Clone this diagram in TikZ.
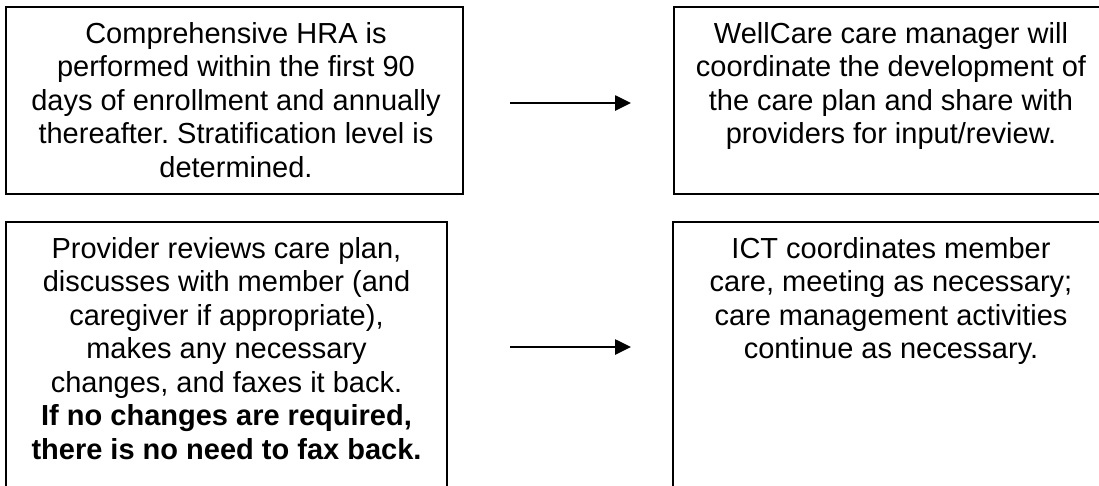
\documentclass[tikz,border=0pt]{standalone}
\usepackage{fontspec}
\setmainfont{Liberation Sans}
\usetikzlibrary{arrows.meta}
\frenchspacing
\begin{document}
\begin{tikzpicture}[x=1pt,y=1pt,
  box/.style={draw=black, line width=2.2pt, inner sep=0pt, outer sep=0pt, anchor=north west},
  txt/.style={align=center, inner sep=0pt, anchor=north, font=\fontsize{29pt}{33.5pt}\selectfont},
  arr/.style={line width=2.6pt, -{Triangle[length=16pt,width=15pt]}}]
\useasboundingbox (0,0) rectangle (1099,-485);
\fill[white] (0,0) rectangle (1099,-485);
\clip (0,0) rectangle (1099,-485);
% boxes
\node[box, minimum width=457pt, minimum height=187pt] (tl) at (6,-7) {};
\node[box, minimum width=436pt, minimum height=187pt] (tr) at (674,-7) {};
\node[box, minimum width=441pt, minimum height=300pt] (bl) at (6,-222) {};
\node[box, minimum width=436pt, minimum height=300pt] (br) at (673,-222) {};
% texts
\node[txt] (tlt) at (236,-22) {Comprehensive HRA is\\performed within the first 90\\days of enrollment and annually\\thereafter. Stratification level is\\determined.};
\node[txt] (trt) at (891,-22) {WellCare care manager will\\coordinate the development of\\the care plan and share with\\providers for input/review.};
\node[txt] (blt) at (226.5,-237) {Provider reviews care plan,\\discusses with member (and\\caregiver if appropriate),\\makes any necessary\\changes, and faxes it back.\\\textbf{If no changes are required,}\\\textbf{there is no need to fax back.}};
\node[txt] (brt) at (891,-237) {ICT coordinates member\\care, meeting as necessary;\\care management activities\\continue as necessary.};
% arrows
\coordinate (a1s) at (510,-103);
\coordinate (a1e) at (631,-103);
\coordinate (a2s) at (510,-347);
\coordinate (a2e) at (631,-347);
\draw[arr] (a1s) -- (a1e);
\draw[arr] (a2s) -- (a2e);
\end{tikzpicture}
\end{document}
